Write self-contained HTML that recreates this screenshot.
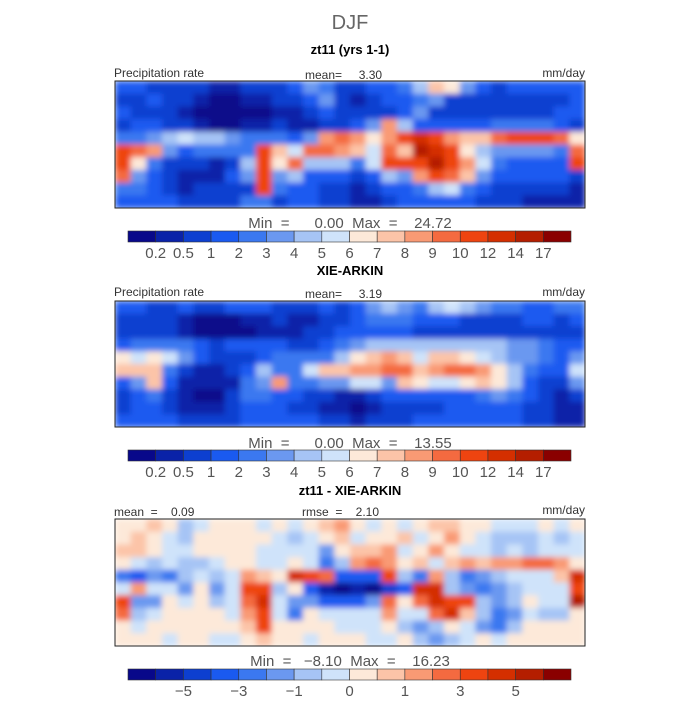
<!DOCTYPE html>
<html><head><meta charset="utf-8"><style>
body{margin:0;background:#fff;}
svg text{font-family:"Liberation Sans",sans-serif;white-space:pre;}
</style></head><body>
<svg id="c" width="700" height="700" viewBox="0 0 700 700">
<defs>
<filter id="bl" x="0" y="0" width="1" height="1"><feGaussianBlur stdDeviation="3" edgeMode="duplicate"/></filter>
<clipPath id="cp1"><rect x="115" y="81" width="470" height="127"/></clipPath>
<clipPath id="cp2"><rect x="115" y="301" width="470" height="126"/></clipPath>
<clipPath id="cp3"><rect x="115" y="519" width="470" height="127"/></clipPath>
</defs>
<text x="350" y="29" text-anchor="middle" font-size="20" fill="#666">DJF</text>
</svg>
<script>
const palette=["#08088a","#0a22a8","#0d3fd0","#1a5af0","#3b78f0","#6b98f0","#a6c4f5","#cfe3fa","#fde9d9","#fcc4a8","#f99a74","#f46a40","#ee4410","#d42f00","#b41e00","#8a0000"];
const precipTicks=["0.2","0.5","1","2","3","4","5","6","7","8","9","10","12","14","17"];
const diffTicks=["","−5","","−3","","−1","","0","","1","","3","","5",""];
const model=[
[3,3,2,2,2,2,1,1,2,2,2,3,5,4,2,2,3,3,4,6,9,8,5,3,2,3,3,3,3,3],
[2,2,3,2,2,1,0,0,1,1,2,2,3,5,2,1,2,3,3,4,5,2,2,2,2,2,2,2,2,3],
[3,2,2,2,1,0,0,0,0,0,1,1,2,3,2,2,2,2,3,5,2,2,2,2,2,2,2,2,3,3],
[2,3,3,2,2,1,0,0,1,1,2,1,1,2,2,3,5,10,6,3,3,3,3,3,4,4,4,4,3,2],
[4,4,5,6,7,6,6,5,4,4,4,3,5,10,11,10,8,10,12,13,12,10,9,9,11,12,12,12,11,8],
[12,11,10,5,3,4,4,4,4,12,9,7,11,11,10,9,7,11,9,14,13,12,8,6,5,5,5,5,4,11],
[12,8,4,2,2,2,1,2,6,12,8,11,6,6,6,4,7,12,12,12,14,12,10,7,4,3,3,3,3,12],
[11,5,3,2,1,1,1,3,5,12,5,6,3,3,3,2,3,6,5,10,12,11,9,5,3,3,3,3,3,2],
[4,4,3,2,1,2,2,2,2,12,4,3,3,2,2,1,2,3,3,4,6,7,4,3,2,2,2,2,2,1],
[3,3,3,3,2,2,2,2,4,4,2,3,3,2,2,1,1,2,3,3,3,3,3,2,2,2,1,1,1,1]];
const obs=[
[3,3,2,2,3,2,2,3,3,3,2,2,2,3,2,3,5,6,5,4,6,7,6,5,4,4,3,3,4,4],
[2,2,2,2,1,0,0,0,1,1,2,1,1,2,2,3,4,4,4,3,3,3,2,2,2,2,3,3,2,3],
[2,2,2,2,1,0,0,0,0,1,1,1,2,2,3,3,3,3,3,2,2,2,2,2,2,2,2,2,2,2],
[3,4,4,4,4,3,2,3,3,3,3,2,2,3,4,5,6,6,6,6,6,6,6,6,6,5,5,4,3,3],
[8,7,8,7,5,3,2,2,2,3,4,4,4,4,6,8,9,10,9,7,9,9,8,7,6,5,5,4,3,5],
[9,9,9,4,2,1,1,2,3,6,4,4,7,9,9,10,10,11,11,9,10,11,11,10,8,6,4,3,3,7],
[3,5,9,3,1,1,1,1,4,5,10,4,4,5,5,7,7,5,9,8,7,7,8,9,8,6,3,2,2,5],
[2,3,4,2,1,0,0,2,4,4,3,3,2,2,1,1,2,3,3,3,3,3,3,4,5,4,3,2,1,2],
[2,3,3,2,1,1,1,2,3,3,3,2,2,1,1,0,1,2,2,2,2,3,3,3,3,3,2,2,1,1],
[3,3,3,3,2,2,2,2,3,3,3,3,3,2,2,1,2,2,2,3,3,3,3,3,3,3,2,2,1,1]];
const diff=[
[8,8,9,8,6,7,8,8,8,7,8,7,8,9,10,8,7,8,7,8,9,9,8,8,7,7,7,8,7,8],
[8,9,8,7,6,8,8,8,8,8,7,6,7,8,9,7,8,8,9,7,8,10,8,7,6,6,6,7,6,7],
[9,9,8,7,7,8,8,8,8,7,7,7,7,5,8,9,9,10,7,8,10,8,7,7,6,7,6,7,7,7],
[8,7,6,7,6,6,7,8,8,7,7,8,7,4,6,10,11,10,8,9,7,9,10,9,10,10,11,11,10,8],
[4,3,5,4,6,7,6,7,10,9,8,13,12,11,3,3,3,12,6,4,10,6,4,5,6,7,7,7,9,13],
[7,10,7,7,5,8,5,7,12,12,6,8,3,1,0,1,0,2,3,13,13,6,5,4,5,6,7,7,7,12],
[12,5,5,8,7,8,6,7,11,13,7,5,5,3,3,3,5,11,8,11,13,12,12,6,5,6,8,7,7,14],
[11,6,7,8,8,8,8,7,10,12,7,4,8,7,7,7,7,10,7,7,11,13,9,6,4,5,7,6,6,8],
[8,7,8,8,8,8,8,8,9,12,8,8,8,8,7,7,7,8,6,5,6,8,7,5,4,6,8,8,8,8],
[8,8,8,7,8,8,7,7,8,9,8,8,7,8,8,8,7,7,8,6,5,6,7,8,7,8,8,8,8,8]];
const svg=document.getElementById('c');const NS="http://www.w3.org/2000/svg";
function mk(t,a,p){const e=document.createElementNS(NS,t);for(const k in a)e.setAttribute(k,a[k]);(p||svg).appendChild(e);return e;}
function txt(x,y,s,size,fill,anchor,weight,name){const e=mk('text',{x:x,y:y,'font-size':size,fill:fill,'text-anchor':anchor||'start','font-weight':weight||'normal'});e.textContent=s;


return e;}
function panel(grid,y0,h,clip,name){
 const x0=115,w=470;const rows=grid.length,cols=grid[0].length;
 const xs=c=>x0+c*w/cols, ys=r=>y0+r*h/rows;
 const g=mk('g',{'clip-path':'url(#'+clip+')'});
 
 
 const gi=mk('g',{filter:'url(#bl)'},g);
 grid.forEach((row,r)=>row.forEach((v,c)=>{const e=mk('rect',{x:xs(c),y:ys(r),width:w/cols+0.5,height:h/rows+0.5,fill:palette[v]},gi);
 
 }));
 const b=mk('rect',{x:x0,y:y0,width:w,height:h,fill:'none',stroke:'#222','stroke-width':1});
 
 
}
function colorbar(y0,ticks,name){
 const x0=128,w=443,n=palette.length,cw=w/n;
 palette.forEach((c,i)=>{const e=mk('rect',{x:x0+i*cw,y:y0,width:cw,height:11,fill:c,stroke:'#333','stroke-width':0.6});
 
 });
 ticks.forEach((t,i)=>{if(t)txt(x0+(i+1)*cw,y0+27,t,15,'#555','middle','normal',name+'-tick');});
}
txt(350,54,'zt11 (yrs 1-1)',13,'#000','middle','bold','panel1-title');
txt(114,77,'Precipitation rate',12,'#333','start','normal','panel1-variable');
txt(305,79,'mean=     3.30',12,'#333','start','normal','panel1-mean');
txt(585,77,'mm/day',12,'#333','end','normal','panel1-units');
panel(model,81,127,'cp1','model-map');
txt(350,228,'Min  =      0.00  Max  =    24.72',15,'#555','middle','normal','panel1-minmax');
colorbar(231,precipTicks,'colorbar1');
txt(350,275,'XIE-ARKIN',13,'#000','middle','bold','panel2-title');
txt(114,296,'Precipitation rate',12,'#333','start','normal','panel2-variable');
txt(305,298,'mean=     3.19',12,'#333','start','normal','panel2-mean');
txt(585,296,'mm/day',12,'#333','end','normal','panel2-units');
panel(obs,301,126,'cp2','obs-map');
txt(350,448,'Min  =      0.00  Max  =    13.55',15,'#555','middle','normal','panel2-minmax');
colorbar(450,precipTicks,'colorbar2');
txt(350,495,'zt11 - XIE-ARKIN',13,'#000','middle','bold','panel3-title');
txt(114,516,'mean  =    0.09',12,'#333','start','normal','panel3-mean');
txt(302,516,'rmse  =    2.10',12,'#333','start','normal','panel3-rmse');
txt(585,514,'mm/day',12,'#333','end','normal','panel3-units');
panel(diff,519,127,'cp3','diff-map');
txt(350,666,'Min  =   −8.10  Max  =    16.23',15,'#555','middle','normal','panel3-minmax');
colorbar(669,diffTicks,'colorbar3');
</script>
</body></html>
